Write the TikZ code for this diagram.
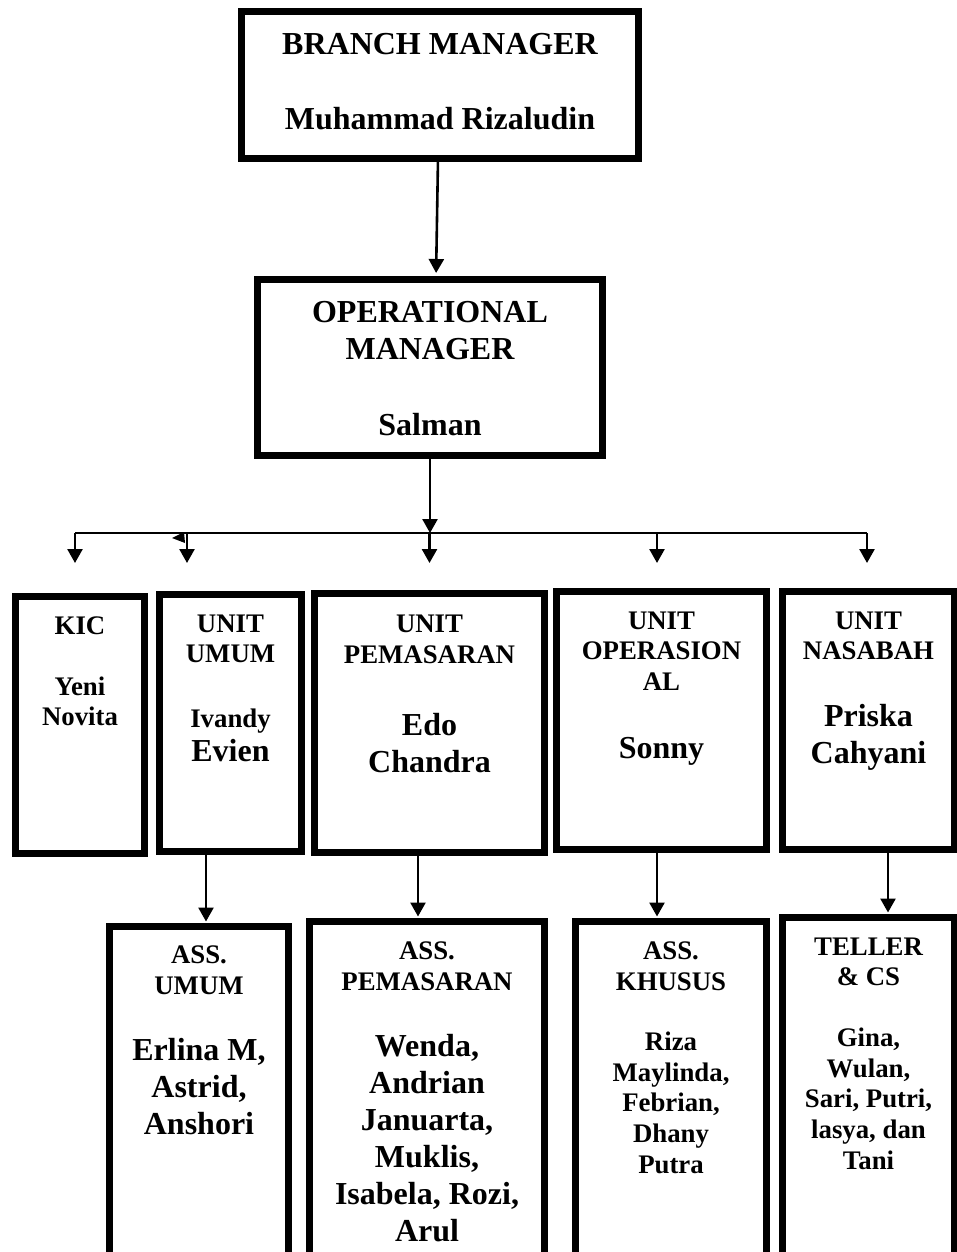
\documentclass[tikz,border=0pt]{standalone}
\usepackage{fontspec}
\setmainfont{Liberation Serif}
\usetikzlibrary{arrows.meta}

\newcommand{\sm}[1]{{\fontsize{13.4}{15.4}\selectfont #1\par}}
\newcommand{\bg}[1]{{\fontsize{16}{18.5}\selectfont #1\par}}
\newcommand{\orgtext}[4]{\parbox[t][#2][t]{#1}{\centering\rule{0pt}{#3}#4}}

\begin{document}
\begin{tikzpicture}[
    x=0.5pt, y=-0.5pt,
    orgbox/.style={
        draw,
        line width=3.5pt,
        inner sep=0pt,
        outer sep=0pt,
        anchor=north west,
        font=\bfseries},
    arr/.style={
        -{Triangle[length=7pt,width=7.5pt]},
        line width=1.3pt}]
    \useasboundingbox (0,0) rectangle (957,1252);
    \clip (0,0) rectangle (957,1252);

    % top
    \node[orgbox] (branch) at (241.5,11.5)
        {\orgtext{198.5pt}{73.5pt}{21.6pt}{\bg{BRANCH MANAGER}\vspace{19pt}\bg{Muhammad Rizaludin}}};
    \node[orgbox] (opman) at (257.5,279.5)
        {\orgtext{172.5pt}{88pt}{21.6pt}{\bg{OPERATIONAL}\bg{MANAGER}\vspace{19.5pt}\bg{Salman}}};

    % units
    \node[orgbox] (kic) at (15.5,596.5)
        {\orgtext{64.5pt}{128.5pt}{18.9pt}{\sm{KIC}\vspace{15pt}\sm{Yeni}\sm{Novita}}};
    \node[orgbox] (umum) at (159.5,594.5)
        {\orgtext{71pt}{128.5pt}{18.75pt}{\sm{UNIT}\sm{UMUM}\vspace{17pt}\sm{Ivandy}\vspace{-1.8pt}\bg{Evien}}};
    \node[orgbox] (pem) at (314.5,593.5)
        {\orgtext{115pt}{129.5pt}{19.6pt}{\sm{UNIT}\sm{PEMASARAN}\vspace{17.7pt}\bg{Edo}\bg{Chandra}}};
    \node[orgbox] (ops) at (556.5,591.5)
        {\orgtext{105pt}{129pt}{18.75pt}{\sm{UNIT}\sm{OPERASION}\sm{AL}\vspace{15.2pt}\bg{Sonny}}};
    \node[orgbox] (nsb) at (782.5,591.5)
        {\orgtext{86pt}{129pt}{18.75pt}{\sm{UNIT}\sm{NASABAH}\vspace{14.8pt}\bg{Priska}\bg{Cahyani}}};

    % assistants
    \node[orgbox] (assumum) at (109.5,926.5)
        {\orgtext{89.5pt}{200pt}{18.55pt}{\sm{ASS.}\sm{UMUM}\vspace{14.5pt}\bg{Erlina M,}\bg{Astrid,}\bg{Anshori}}};
    \node[orgbox] (asspem) at (309.5,921.5)
        {\orgtext{117.5pt}{200pt}{19.1pt}{\sm{ASS.}\sm{PEMASARAN}\vspace{14.7pt}\bg{Wenda,}\bg{Andrian}\bg{Januarta,}\bg{Muklis,}\bg{Isabela, Rozi,}\bg{Arul}}};
    \node[orgbox] (khusus) at (575.5,921.5)
        {\orgtext{95.5pt}{200pt}{19.1pt}{\sm{ASS.}\sm{KHUSUS}\vspace{14.5pt}\sm{Riza}\sm{Maylinda,}\sm{Febrian,}\sm{Dhany}\sm{Putra}}};
    \node[orgbox] (teller) at (782.5,917.5)
        {\orgtext{86pt}{200pt}{18.75pt}{\sm{TELLER}\sm{\& CS}\vspace{14.8pt}\sm{Gina,}\sm{Wulan,}\sm{Sari, Putri,}\sm{lasya, dan}\sm{Tani}}};

    % connectors
    \coordinate (busL) at (75,533);
    \coordinate (busR) at (867,533);
    \coordinate (tips) at (0,563);
    \draw[arr, shorten >=3.25pt] ([xshift=-1pt]branch.south) -- ([xshift=3pt]opman.north);
    \draw[arr] (opman.south) -- (opman.south |- busL);
    \draw[line width=1.3pt] (busL) -- (busR);
    \foreach \n/\dx in {kic/-2.5, umum/-21.75, pem/0, ops/-2.25, nsb/-0.75}
        \draw[arr] ([xshift=\dx pt]\n.north |- busL) -- ([xshift=\dx pt]\n.north |- tips);
    \fill (172,538) -- (184,532) -- (185,543) -- cycle;

    \foreach \a/\b/\dx in {umum/assumum/-12.25, pem/asspem/-5.75, ops/khusus/-2.25, nsb/teller/9.75}
        \draw[arr, shorten >=2.5pt] ([xshift=\dx pt]\a.south) -- ([xshift=\dx pt]\a.south |- \b.north);
\end{tikzpicture}
\end{document}
